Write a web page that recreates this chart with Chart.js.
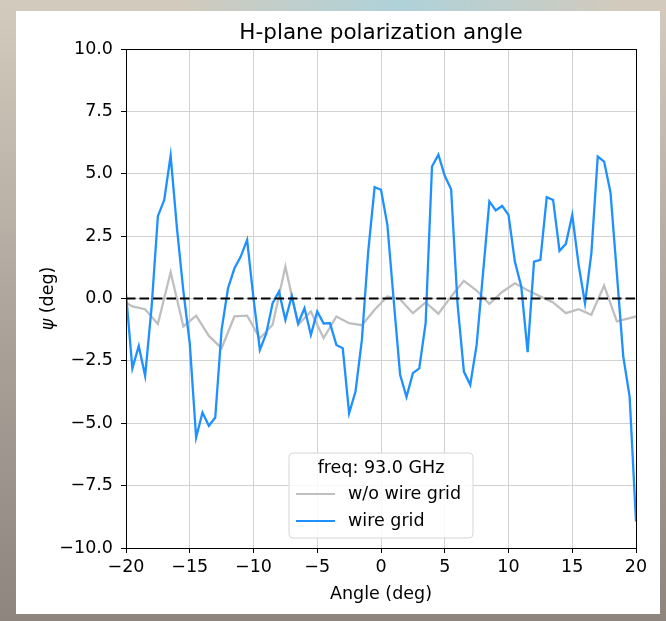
<!DOCTYPE html>
<html>
<head>
<meta charset="utf-8">
<script src="https://cdn.jsdelivr.net/npm/chart.js@4.4.1/dist/chart.umd.min.js"></script>
<style>
body {
    margin: 0;
    width: 666px;
    height: 621px;
    overflow: hidden;
    background:
        radial-gradient(ellipse at 60% 0%, rgba(170, 210, 220, 0.9) 0%, rgba(170, 210, 220, 0) 40%),
        linear-gradient(180deg, #d3cbbd 0%, #aaa299 55%, #8e867e 100%);
}
#card {
    position: absolute;
    left: 16px;
    top: 11px;
    width: 644px;
    height: 603px;
    background: #fff;
}
canvas {
    position: absolute;
    left: 0;
    top: 0;
}
</style>
</head>
<body>
<div id="card"></div>
<canvas id="polChart" width="666" height="621"></canvas>
<script>
// ------- data -------
var blueAngles = [
    -20, -19.5, -19, -18.5, -18, -17.5, -17, -16.5, -16, -15.5,
    -15, -14.5, -14, -13.5, -13, -12.5, -12, -11.5, -11, -10.5,
    -10, -9.5, -9, -8.5, -8, -7.5, -7, -6.5, -6, -5.5,
    -5, -4.5, -4, -3.5, -3, -2.5, -2, -1.5, -1, -0.5,
    0, 0.5, 1, 1.5, 2, 2.5, 3, 3.5, 4, 4.5,
    5, 5.5, 6, 6.5, 7, 7.5, 8, 8.5, 9, 9.5,
    10, 10.5, 11, 11.5, 12, 12.5, 13, 13.5, 14, 14.5,
    15, 15.5, 16, 16.5, 17, 17.5, 18, 18.5, 19, 19.5,
    20
];
var wireGrid = [
    0.2, -2.8, -1.9, -3.1, -0.4, 3.3, 3.95, 5.73, 2.8, 0.3,
    -1.8, -5.57, -4.57, -5.1, -4.77, -1.25, 0.41, 1.2, 1.68, 2.35,
    0.0, -2.06, -1.4, -0.19, 0.28, -0.86, 0.1, -1.0, -0.39, -1.46,
    -0.52, -1.0, -0.99, -1.86, -1.99, -4.6, -3.73, -1.66, 1.9, 4.46,
    4.36, 2.95, -0.1, -3.06, -3.95, -2.99, -2.8, -0.99, 5.29, 5.76,
    4.92, 4.38, -0.2, -2.93, -3.46, -1.86, 1.0, 3.89, 3.53, 3.71,
    3.35, 1.48, 0.48, -2.15, 1.48, 1.55, 4.06, 3.95, 1.91, 2.19,
    3.35, 1.35, -0.19, 1.82, 5.69, 5.49, 4.25, 1.0, -2.32, -3.93,
    -8.94
];

var grayAngles = [
    -20, -19.5, -18.5, -17.5, -16.5, -15.5, -14.5, -13.5, -12.5, -11.5,
    -10.5, -9.5, -8.5, -7.5, -6.5, -5.5, -4.5, -3.5, -2.5, -1.5,
    -0.5, 0.5, 1.5, 2.5, 3.5, 4.5, 5.5, 6.5, 7.5, 8.5,
    9.5, 10.5, 11.5, 12.5, 13.5, 14.5, 15.5, 16.5, 17.5, 18.5,
    19.5, 20
];
var noWireGrid = [
    -0.16, -0.32, -0.43, -1.02, 1.06, -1.12, -0.69, -1.5, -1.99, -0.72,
    -0.69, -1.6, -1.05, 1.28, -1.05, -0.52, -1.59, -0.72, -0.99, -1.07,
    -0.45, 0.08, -0.03, -0.59, -0.16, -0.61, 0.08, 0.71, 0.32, -0.22,
    0.26, 0.61, 0.33, 0.08, -0.16, -0.59, -0.43, -0.65, 0.52, -0.92,
    -0.79, -0.72
];

var zeroX = [-20, 20];
var zeroY = [0, 0];

var xTicks = [-20, -15, -10, -5, 0, 5, 10, 15, 20];
var yTicks = [-10, -7.5, -5, -2.5, 0, 2.5, 5, 7.5, 10];

var chartTitle = "H-plane polarization angle";
var legendTitle = "freq: 93.0 GHz";

function toPoints(xs, ys) {
    return xs.map(function(x, i) { return {x: x, y: ys[i]}; });
}

//matplotlib style minus sign
function fmt(v, d) {
    var s = Math.abs(v).toFixed(d);
    return v < 0 ? "\u2212" + s : s;
}

var FONT = "'DejaVu Sans', sans-serif";
var FS = 17.5;

// frame, title, y title (italic psi) and legend box
var extras = {
    id: "extras",
    afterDatasetsDraw: function(chart) {
        var ctx = chart.ctx;
        var a = chart.chartArea;
        ctx.save();
        ctx.strokeStyle = "#000";
        ctx.lineWidth = 1;
        ctx.strokeRect(Math.round(a.left) + 0.5, Math.round(a.top) + 0.5,
            Math.round(a.right - a.left), Math.round(a.bottom - a.top));

        //title
        ctx.fillStyle = "#000";
        ctx.font = "21.5px " + FONT;
        ctx.textAlign = "center";
        ctx.textBaseline = "middle";
        ctx.fillText(chartTitle, (a.left + a.right) / 2, 33);

        //legend
        var bx = 289, by = 453, bw = 184, bh = 85, r = 4;
        ctx.beginPath();
        ctx.moveTo(bx + r, by);
        ctx.arcTo(bx + bw, by, bx + bw, by + bh, r);
        ctx.arcTo(bx + bw, by + bh, bx, by + bh, r);
        ctx.arcTo(bx, by + bh, bx, by, r);
        ctx.arcTo(bx, by, bx + bw, by, r);
        ctx.closePath();
        ctx.fillStyle = "rgba(255,255,255,0.85)";
        ctx.fill();
        ctx.strokeStyle = "#d6d6d6";
        ctx.stroke();

        ctx.fillStyle = "#000";
        ctx.font = FS + "px " + FONT;
        ctx.textAlign = "center";
        ctx.fillText(legendTitle, bx + bw / 2, 468);

        var rows = [chart.data.datasets[1], chart.data.datasets[0]];
        rows.forEach(function(ds, i) {
            var yy = 494 + i * 27;
            ctx.strokeStyle = ds.borderColor;
            ctx.lineWidth = 2.2;
            ctx.beginPath();
            ctx.moveTo(296, yy);
            ctx.lineTo(335, yy);
            ctx.stroke();
            ctx.textAlign = "left";
            ctx.fillText(ds.label, 348, yy);
        });

        //y axis title
        ctx.translate(48, (a.top + a.bottom) / 2);
        ctx.rotate(-Math.PI / 2);
        ctx.font = "italic " + FS + "px " + FONT;
        var w1 = ctx.measureText("\u03c8").width;
        ctx.font = FS + "px " + FONT;
        var w2 = ctx.measureText(" (deg)").width;
        var x0 = -(w1 + w2) / 2;
        ctx.textAlign = "left";
        ctx.font = "italic " + FS + "px " + FONT;
        ctx.fillText("\u03c8", x0, 0);
        ctx.font = FS + "px " + FONT;
        ctx.fillText(" (deg)", x0 + w1, 0);
        ctx.restore();
    }
};

Chart.defaults.color = "#000";
Chart.defaults.font.family = FONT;

new Chart("polChart", {
    type: "line",
    data: {
        datasets: [{
            label: "wire grid",
            data: toPoints(blueAngles, wireGrid),
            borderColor: "#1e90ff",
            borderWidth: 2.3,
            pointRadius: 0,
            tension: 0,
            order: 1
        }, {
            label: "w/o wire grid",
            data: toPoints(grayAngles, noWireGrid),
            borderColor: "#bfbfbf",
            borderWidth: 2.3,
            pointRadius: 0,
            tension: 0,
            order: 2
        }, {
            label: "",
            data: toPoints(zeroX, zeroY),
            borderColor: "#000",
            borderWidth: 2.2,
            borderDash: [9.5, 4],
            pointRadius: 0,
            order: 0
        }]
    },
    options: {
        responsive: false,
        animation: false,
        layout: {
            padding: {left: 0, right: 30, top: 49, bottom: 0}
        },
        plugins: {
            legend: {display: false},
            tooltip: {enabled: false},
            title: {display: false}
        },
        scales: {
            x: {
                type: "linear",
                min: -20,
                max: 20,
                afterBuildTicks: function(s) {
                    s.ticks = xTicks.map(function(v) { return {value: v}; });
                },
                afterFit: function(s) { s.height = 73; },
                ticks: {
                    font: {size: FS},
                    padding: 4,
                    maxRotation: 0,
                    callback: function(v) { return fmt(v, 0); }
                },
                grid: {color: "#d2d2d2", tickColor: "#000", tickLength: 5},
                border: {color: "#000"},
                title: {
                    display: true,
                    text: "Angle (deg)",
                    font: {size: FS},
                    padding: {top: 4, bottom: 16}
                }
            },
            y: {
                min: -10,
                max: 10,
                afterBuildTicks: function(s) {
                    s.ticks = yTicks.map(function(v) { return {value: v}; });
                },
                afterFit: function(s) { s.width = 126; },
                ticks: {
                    font: {size: FS},
                    padding: 8,
                    callback: function(v) { return fmt(v, 1); }
                },
                grid: {color: "#d2d2d2", tickColor: "#000", tickLength: 5},
                border: {color: "#000"}
            }
        }
    },
    plugins: [extras]
});
</script>
</body>
</html>
